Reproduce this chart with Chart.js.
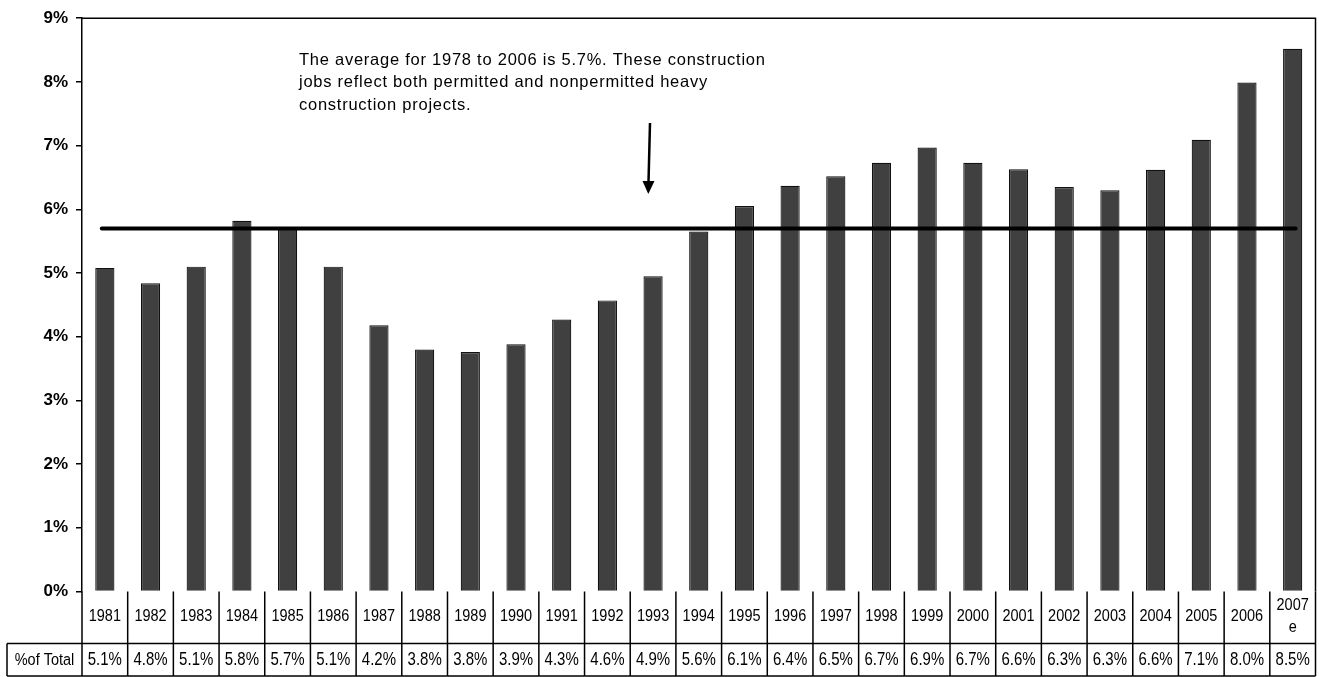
<!DOCTYPE html>
<html>
<head>
<meta charset="utf-8">
<script src="https://cdn.jsdelivr.net/npm/chart.js@4"></script>
<style>
  html, body { margin: 0; padding: 0; background: #fff; }
  #wrap { width: 1319px; height: 677px; position: relative; }
</style>
</head>
<body>
<div id="wrap"><canvas id="jobsChart"></canvas></div>
<script>
// data
const years = ["1981", "1982", "1983", "1984", "1985", "1986", "1987", "1988", "1989", "1990",
  "1991", "1992", "1993", "1994", "1995", "1996", "1997", "1998", "1999", "2000",
  "2001", "2002", "2003", "2004", "2005", "2006", ["2007", "e"]]
const shareOfTotal = [5.08, 4.84, 5.10, 5.82, 5.71, 5.10, 4.18, 3.80, 3.76, 3.88,
  4.27, 4.57, 4.95, 5.65, 6.05, 6.37, 6.52, 6.73, 6.97, 6.73,
  6.63, 6.35, 6.30, 6.62, 7.09, 7.99, 8.52]
const tableLabels = ["5.1%", "4.8%", "5.1%", "5.8%", "5.7%", "5.1%", "4.2%", "3.8%", "3.8%", "3.9%",
  "4.3%", "4.6%", "4.9%", "5.6%", "6.1%", "6.4%", "6.5%", "6.7%", "6.9%", "6.7%",
  "6.6%", "6.3%", "6.3%", "6.6%", "7.1%", "8.0%", "8.5%"]
const tableRowTitle = "%of Total"
const averageValue = 5.7
const note = [
  "The average for 1978 to 2006 is 5.7%. These construction",
  "jobs reflect both permitted and nonpermitted heavy",
  "construction projects.",
]

const FONT = "'Liberation Sans', Arial, Helvetica, sans-serif"

// table text in the picture is a bit taller than wide
function tallText(ctx, text, x, y, sy) {
  ctx.save()
  ctx.translate(x, y)
  ctx.scale(1, sy)
  ctx.fillText(text, 0, 0)
  ctx.restore()
}

// box round the plot, average line, note + arrow, data table
const extras = {
  id: "extras",
  afterDatasetsDraw(chart) {
    const ctx = chart.ctx
    const area = chart.chartArea
    const x = chart.scales.x
    const y = chart.scales.y
    const colW = (area.right - area.left) / years.length

    ctx.save()

    // frame top + right
    ctx.strokeStyle = "#000"
    ctx.lineWidth = 1.5
    ctx.beginPath()
    ctx.moveTo(area.left, area.top)
    ctx.lineTo(area.right, area.top)
    ctx.lineTo(area.right, area.bottom)
    ctx.stroke()

    // average line
    const avgY = y.getPixelForValue(averageValue)
    ctx.lineWidth = 4
    ctx.lineCap = "round"
    ctx.beginPath()
    ctx.moveTo(x.getPixelForValue(0) - 3, avgY)
    ctx.lineTo(x.getPixelForValue(years.length - 1) + 3, avgY)
    ctx.stroke()

    // note
    ctx.fillStyle = "#000"
    ctx.font = "16.5px " + FONT
    if ("letterSpacing" in ctx) ctx.letterSpacing = "0.75px"
    ctx.textAlign = "left"
    ctx.textBaseline = "alphabetic"
    note.forEach((line, i) => ctx.fillText(line, 299, 64.5 + i * 22.5))
    if ("letterSpacing" in ctx) ctx.letterSpacing = "0px"

    // arrow
    ctx.lineWidth = 2.5
    ctx.lineCap = "butt"
    ctx.beginPath()
    ctx.moveTo(650, 123)
    ctx.lineTo(648.5, 182)
    ctx.stroke()
    ctx.beginPath()
    ctx.moveTo(642.5, 181)
    ctx.lineTo(654.5, 181)
    ctx.lineTo(648.3, 194)
    ctx.closePath()
    ctx.fill()

    // table
    const top = area.bottom
    const mid = 643.5
    const bot = 676
    const tableLeft = 7
    ctx.lineWidth = 1.5
    ctx.beginPath()
    ctx.moveTo(tableLeft, mid)
    ctx.lineTo(area.right, mid)
    ctx.moveTo(tableLeft, bot)
    ctx.lineTo(area.right, bot)
    ctx.moveTo(tableLeft, mid)
    ctx.lineTo(tableLeft, bot)
    for (let i = 0; i <= years.length; i++) {
      const cx = area.left + i * colW
      ctx.moveTo(cx, top)
      ctx.lineTo(cx, bot)
    }
    ctx.stroke()

    ctx.textAlign = "center"
    ctx.textBaseline = "middle"
    ctx.font = "14.5px " + FONT
    years.forEach((label, i) => {
      const cx = x.getPixelForValue(i)
      if (Array.isArray(label)) {
        tallText(ctx, label[0], cx, 605.5, 1.18)
        tallText(ctx, label[1], cx, 627, 1.18)
      } else {
        tallText(ctx, label, cx, 616.5, 1.18)
      }
    })
    ctx.font = "15px " + FONT
    tableLabels.forEach((label, i) => {
      tallText(ctx, label, x.getPixelForValue(i), 660.5, 1.18)
    })
    ctx.font = "14.5px " + FONT
    tallText(ctx, tableRowTitle, (tableLeft + area.left) / 2, 660.5, 1.18)

    ctx.restore()
  },
}

const jobsChart = new Chart(document.getElementById("jobsChart"), {
  type: "bar",
  data: {
    labels: years,
    datasets: [
      {
        data: shareOfTotal,
        backgroundColor: "#404040",
        borderColor: "#111",
        borderWidth: 1.2,
        barPercentage: 0.42,
        categoryPercentage: 1,
      },
    ],
  },
  options: {
    responsive: true,
    maintainAspectRatio: false,
    animation: false,
    devicePixelRatio: 1,
    layout: {
      padding: { top: 15.5, right: 3.5, bottom: 85.5, left: 0 },
    },
    plugins: {
      legend: { display: false },
      tooltip: { enabled: false },
    },
    scales: {
      x: {
        display: false,
      },
      y: {
        min: 0,
        max: 9,
        afterFit: (axis) => {
          axis.width = 82
        },
        ticks: {
          stepSize: 1,
          padding: 8,
          color: "#000",
          font: { family: FONT, size: 17, weight: "bold" },
          callback: (v) => v + "%",
        },
        grid: {
          drawOnChartArea: false,
          tickLength: 6,
          color: "#000",
          lineWidth: 1.5,
        },
        border: { color: "#000", width: 1.5 },
      },
    },
  },
  plugins: [extras],
})
</script>
</body>
</html>
